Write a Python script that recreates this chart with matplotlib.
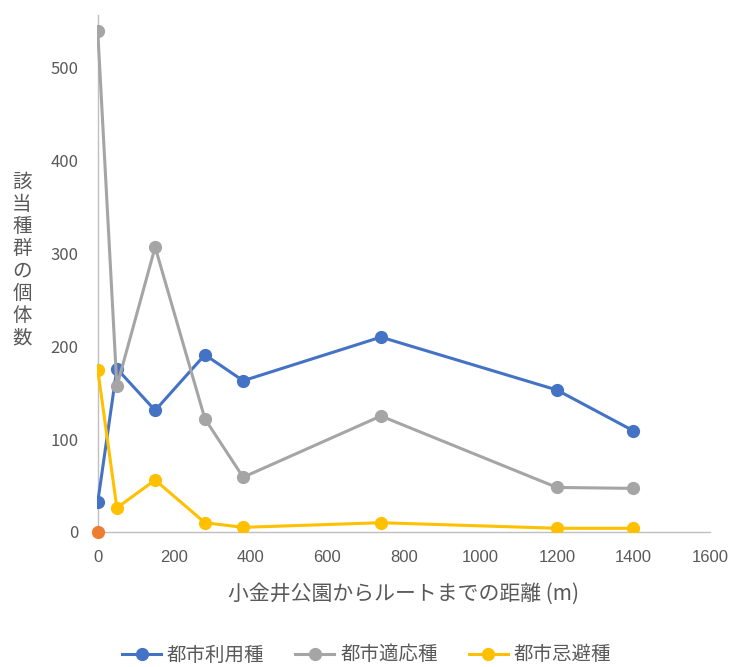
import matplotlib
matplotlib.use("Agg")
import matplotlib.pyplot as plt
from matplotlib.lines import Line2D

plt.rcParams['font.family'] = ['Noto Sans CJK JP', 'DejaVu Sans']

# --- data ---
distance = [0, 50, 150, 280, 380, 740, 1200, 1400]
urban_use = [32, 176, 131, 191, 163, 210, 153, 109]      # 都市利用種
urban_adapt = [540, 157, 307, 122, 59, 125, 48, 47]      # 都市適応種
urban_avoid = [175, 26, 56, 10, 5, 10, 4, 4]             # 都市忌避種
extra_x = [0]
extra_y = [0]

series_names = ['都市利用種', '都市適応種', '都市忌避種']
series_colors = ['#4472C4', '#A5A5A5', '#FFC000']
x_ticks = [0, 200, 400, 600, 800, 1000, 1200, 1400, 1600]
y_ticks = [0, 100, 200, 300, 400, 500]

fig = plt.figure(figsize=(7.33, 6.67), dpi=100)
ax = fig.add_axes([0.1323, 0.2024, 0.8363, 0.775])

for vals, col in zip([urban_use, urban_adapt, urban_avoid], series_colors):
    ax.plot(distance, vals, color=col, lw=2.2, marker='o', ms=8.5, zorder=3)
ax.plot(extra_x, extra_y, color='#ED7D31', marker='o', ms=8.5, lw=0, zorder=4, clip_on=False)

ax.set_xlim(-2, 1600)
ax.set_ylim(0, 557)
ax.set_xticks(x_ticks)
ax.set_yticks(y_ticks)
ax.tick_params(length=0, labelsize=12, labelcolor='#595959')
ax.tick_params(axis='y', pad=14)
ax.tick_params(axis='x', pad=13)
for lab in ax.get_xticklabels() + ax.get_yticklabels():
    lab.set_family('Liberation Sans')

for s in ['top', 'right']:
    ax.spines[s].set_visible(False)
ax.spines['bottom'].set_color('#BFBFBF')
ax.spines['left'].set_color('#BFBFBF')
ax.spines['bottom'].set_bounds(0, 1600)
ax.spines['left'].set_position(('data', 0))
for p in ax.spines.values():
    p.set_zorder(1)
    p.set_linewidth(1.0)

ax.set_xlabel('小金井公園からルートまでの距離 (m)', fontsize=15, color='#595959', labelpad=13)

# vertical y label
fig.text(22 / 733, 1 - 260 / 667, '\n'.join('該当種群の個体数'), fontsize=14,
         color='#595959', ha='center', va='center', linespacing=1.08)

handles = [Line2D([0], [0], color=c, lw=2.2, marker='o', ms=8.5) for c in series_colors]
fig.legend(handles, series_names, loc='center', bbox_to_anchor=(0.5, 1 - 655 / 667),
           ncol=3, frameon=False, fontsize=14, handlelength=2.0, columnspacing=1.6,
           handletextpad=0.3, labelcolor='#595959')

fig.savefig('out.png', dpi=100)
